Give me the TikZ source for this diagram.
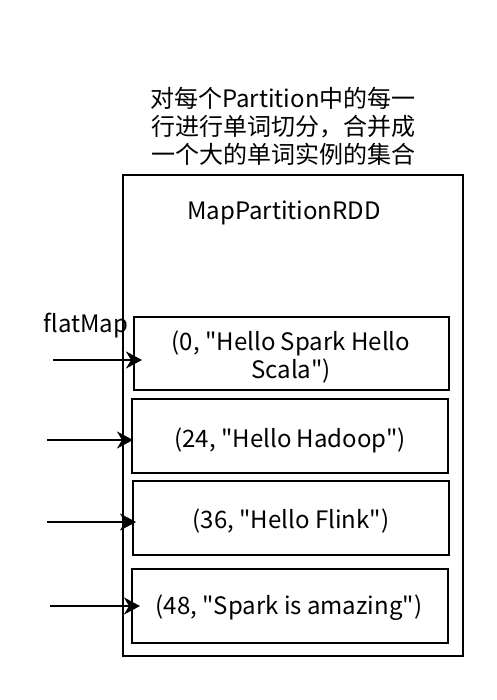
\documentclass[tikz,border=0pt]{standalone}
\usepackage{fontspec}
\newfontfamily\cjkfont{Noto Sans CJK SC}
\usetikzlibrary{arrows.meta}
\begin{document}
\begin{tikzpicture}[x=1pt,y=-1pt,
  box/.style={draw,line width=2pt,inner sep=0pt},
  txt/.style={font=\cjkfont\fontsize{24}{28}\selectfont,align=center,inner sep=0pt},
  arr/.style={line width=2pt,-{Stealth[length=16pt,width=17pt,inset=5pt]}}]
\useasboundingbox (0,0) rectangle (496,700);
\draw[box] (123,175) rectangle (463,656);
\node[txt] (title) at (283,126) {对每个Partition中的每一\\行进行单词切分，合并成\\一个大的单词实例的集合};
\node[txt] (rdd) at (284,213) {MapPartitionRDD};
\draw[box] (134,317) rectangle (449,390);
\draw[box] (132,399) rectangle (448,473);
\draw[box] (133,481) rectangle (449,555);
\draw[box] (132,569) rectangle (448,643);
\node[txt] (p1) at (291,357) {(0, "Hello Spark Hello\\Scala")};
\node[txt] (p2) at (290,440) {(24, "Hello Hadoop")};
\node[txt] (p3) at (291,521) {(36, "Hello Flink")};
\node[txt] (p4) at (289,608) {(48, "Spark is amazing")};
\node[txt] (fm) at (86,326) {flatMap};
\coordinate (s1) at (53,360); \coordinate (e1) at (142,360);
\coordinate (s2) at (47,440); \coordinate (e2) at (133,440);
\coordinate (s3) at (47,522); \coordinate (e3) at (136,522);
\coordinate (s4) at (50,606); \coordinate (e4) at (140,606);
\draw[arr] (s1) -- (e1);
\draw[arr] (s2) -- (e2);
\draw[arr] (s3) -- (e3);
\draw[arr] (s4) -- (e4);
\end{tikzpicture}
\end{document}
